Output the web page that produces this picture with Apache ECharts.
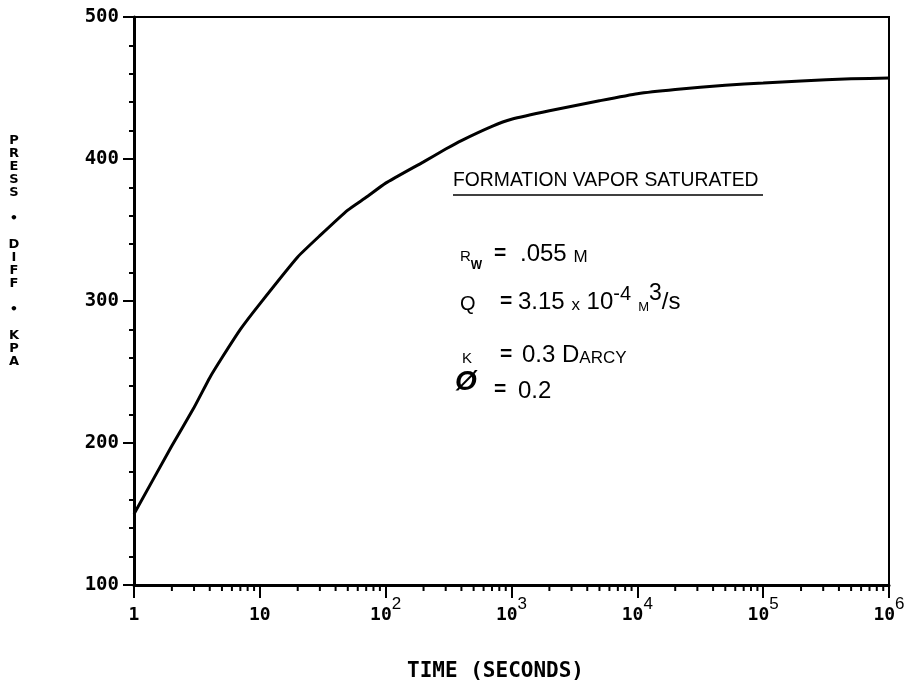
<!DOCTYPE html>
<html><head><meta charset="utf-8">
<script src="https://cdn.jsdelivr.net/npm/echarts@6/dist/echarts.min.js"></script>
<style>html,body{margin:0;padding:0;background:#fff}#c{width:917px;height:683px}</style>
</head><body><div id="c"></div>
<script>
// ---- data ----
const times = [1, 2, 3, 4, 5, 7, 10, 20, 30, 50, 70, 100, 200, 300, 400, 700, 1000, 2000, 5000, 10000, 20000, 50000, 100000, 200000, 500000, 1000000];
const pressure = [150, 198, 225, 246, 260, 280, 298, 331, 346, 364, 373, 383, 398, 407, 413, 423, 428, 434, 441, 446, 449, 452, 453.5, 455, 456.5, 457];
const yTickLabels = [100, 200, 300, 400, 500];
const xDecades = [1, 10, 100, 1000, 10000, 100000];
const xMinorMultipliers = [2, 3, 4, 5, 6, 7, 8, 9];
const xMinorTicks = xDecades.flatMap(d => xMinorMultipliers.map(m => m * d));

const MONO = "'DejaVu Sans Mono', 'Liberation Mono', monospace";
const SANS = "'Liberation Sans', Arial, sans-serif";

const chart = echarts.init(document.getElementById('c'), null, {renderer: 'canvas'});

function txt(x, y, text, rich, extra) {
  return {
    type: 'text', x: x, y: y, silent: true, z: 10,
    style: Object.assign({
      text: text, fill: '#000', fontFamily: SANS, fontSize: 24,
      align: 'left', verticalAlign: 'bottom', rich: rich || {}
    }, extra || {})
  };
}
const R = {
  b: {fontSize: 24, fontFamily: SANS, verticalAlign: 'bottom'},
  q: {fontSize: 20, fontFamily: SANS, verticalAlign: 'bottom'},
  k: {fontSize: 15, fontFamily: SANS, verticalAlign: 'bottom'},
  eq: {fontSize: 21, fontFamily: SANS, fontWeight: 'bold', verticalAlign: 'bottom'},
  s14p8: {fontSize: 15, fontFamily: SANS, verticalAlign: 'bottom', padding: [0, 0, 8, 0]},
  sub: {fontSize: 12, fontFamily: SANS, fontWeight: 'bold', verticalAlign: 'bottom'},
  s16: {fontSize: 17, fontFamily: SANS, verticalAlign: 'bottom'},
  s13: {fontSize: 13, fontFamily: SANS, verticalAlign: 'bottom'},
  sup: {fontSize: 20, fontFamily: SANS, verticalAlign: 'bottom', padding: [0, 0, 10, 0]},
  sup3: {fontSize: 23, fontFamily: SANS, verticalAlign: 'bottom', padding: [0, 0, 9, 0]}
};

const option = {
  backgroundColor: '#fff',
  animation: false,
  grid: {left: 134, right: 28, top: 17, bottom: 98, show: true, borderColor: '#000', borderWidth: 2,
         containLabel: false, outerBoundsMode: 'none'},
  xAxis: {
    type: 'log', logBase: 10, min: 1, max: 1000000, splitNumber: 6,
    axisLine: {show: true, lineStyle: {color: '#000', width: 3}},
    axisTick: {show: true, inside: false, length: 13, lineStyle: {color: '#000', width: 2}},
    minorTick: {show: false},
    splitLine: {show: false},
    axisLabel: {
      margin: 11, showMinLabel: true, showMaxLabel: true,
      formatter: function (v) {
        const e = Math.round(Math.log10(v));
        if (e === 0) return '{b|1}';
        if (e === 1) return '{b|10}';
        return '{b|10}{s|' + e + '}';
      },
      rich: {
        b: {fontFamily: MONO, fontWeight: 'bold', fontSize: 18, color: '#000', lineHeight: 28, verticalAlign: 'bottom'},
        s: {fontFamily: SANS, fontSize: 17, color: '#000', verticalAlign: 'top', lineHeight: 17}
      }
    },
    name: 'TIME (SECONDS)', nameLocation: 'middle', nameGap: 76,
    nameTextStyle: {fontFamily: MONO, fontWeight: 'bold', fontSize: 21, color: '#000', padding: [0, 32, 0, 0]}
  },
  yAxis: {
    type: 'value', min: 100, max: 500, interval: 100,
    axisLine: {show: true, lineStyle: {color: '#000', width: 3}},
    axisTick: {show: true, inside: false, length: 11, lineStyle: {color: '#000', width: 2}},
    minorTick: {show: true, splitNumber: 5, length: 5, lineStyle: {color: '#000', width: 2}},
    splitLine: {show: false},
    axisLabel: {color: '#000', fontFamily: MONO, fontWeight: 'bold', fontSize: 19, margin: 15,
      formatter: function (v) { return yTickLabels.indexOf(v) >= 0 ? String(v) : ''; }}
  },
  series: [
    {
      type: 'line', data: times.map((t, i) => [t, pressure[i]]),
      showSymbol: false, symbol: 'none', smooth: 0.15,
      lineStyle: {color: '#000', width: 3}, z: 3, silent: true
    },
    {
      type: 'custom', silent: true, clip: false, z: 4,
      data: xMinorTicks.map(v => [v, 100]),
      renderItem: function (params, api) {
        const p = api.coord([api.value(0), api.value(1)]);
        return {type: 'line', shape: {x1: p[0], y1: p[1], x2: p[0], y2: p[1] + 6},
                style: {stroke: '#000', lineWidth: 2}};
      }
    }
  ],
  graphic: [
    // vertical y-axis title
    {type: 'text', x: 14, y: 134, silent: true,
     style: {text: 'P\nR\nE\nS\nS\n\n•\n\nD\nI\nF\nF\n\n•\n\nK\nP\nA', fill: '#000',
             fontFamily: "'DejaVu Sans', sans-serif", fontWeight: 'bold', fontSize: 13, lineHeight: 13,
             align: 'center', verticalAlign: 'top'}},
    // annotation
    {type: 'text', x: 453, y: 191, scaleX: 0.92, silent: true,
     style: {text: 'FORMATION VAPOR SATURATED', fill: '#000', fontFamily: SANS, fontSize: 21,
             align: 'left', verticalAlign: 'bottom'}},
    {type: 'line', silent: true, shape: {x1: 453, y1: 195, x2: 763, y2: 195}, style: {stroke: '#000', lineWidth: 1.5}},

    txt(460, 272, '{s14p8|R}{sub|W}', R),
    txt(494, 264, '{eq|=}', R),
    txt(520, 266, '{b|.055 }{s16|M}', R),

    txt(460, 314, '{q|Q}', R),
    txt(500, 312, '{eq|=}', R),
    txt(518, 314, '{b|3.15 }{s16|x}{b| 10}{sup|-4}{s13|  M}{sup3|3}{b|/s}', R),

    txt(462, 366, '{k|K}', R),
    txt(500, 365, '{eq|=}', R),
    txt(522, 367, '{b|0.3 D}{s16|ARCY}', R),

    txt(455, 396, 'Ø', null, {fontSize: 28, fontWeight: 'bold', fontStyle: 'italic'}),
    txt(494, 400, '{eq|=}', R),
    txt(518, 403, '{b|0.2}', R)
  ]
};
chart.setOption(option);
</script>
</body></html>
